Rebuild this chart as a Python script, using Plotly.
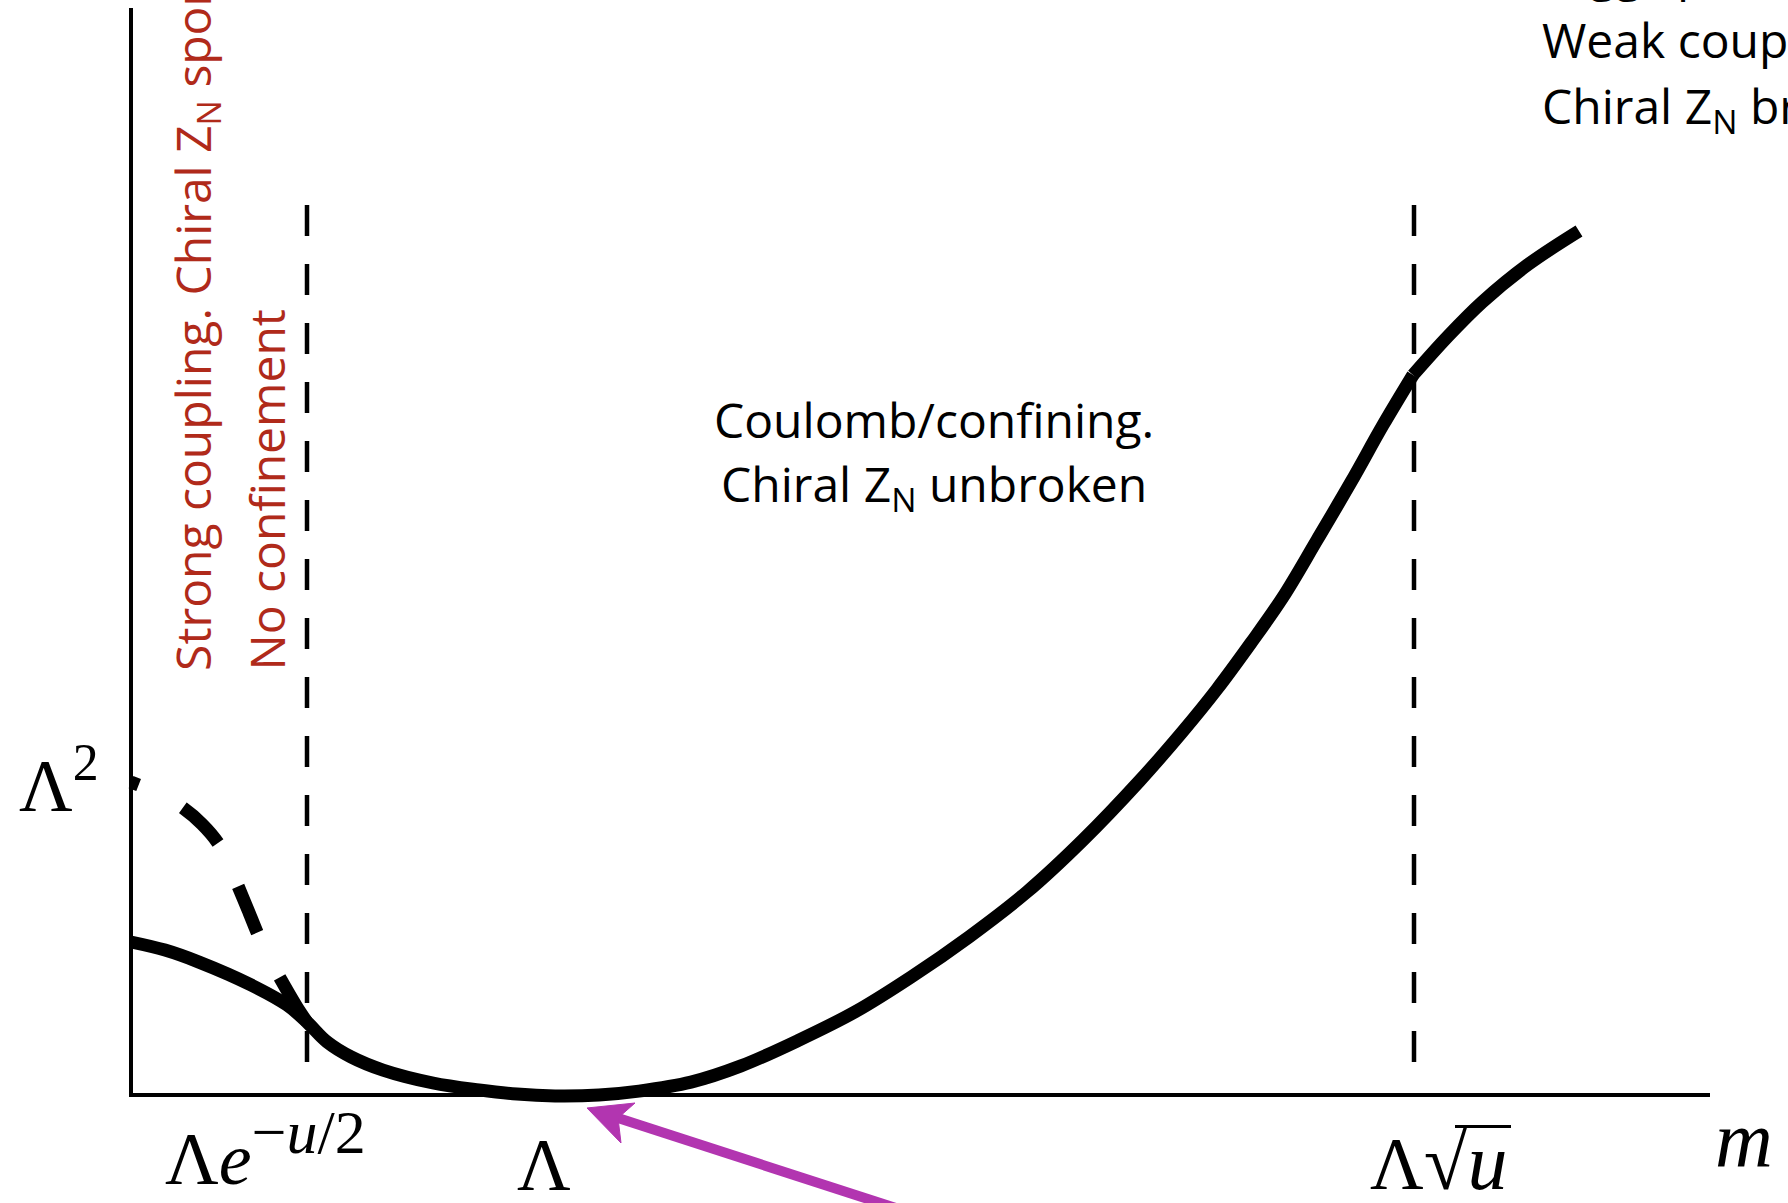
import plotly.graph_objects as go

# Mass parameter m in units of Lambda, gap in units of Lambda^2
# lower branch: from m = 0 up to the Lambda*sqrt(u) boundary
m_low = [0.0, 0.085, 0.17, 0.30, 0.39, 0.44, 0.49, 0.55, 0.63, 0.755, 0.87, 0.965,
         1.06, 1.17, 1.27, 1.40, 1.525, 1.67, 1.81, 1.95, 2.095, 2.24, 2.38, 2.52,
         2.63, 2.715, 2.80, 2.88, 2.965, 3.05, 3.13, 3.205]
gap_low = [0.510, 0.483, 0.443, 0.367, 0.300, 0.243, 0.177, 0.127, 0.083, 0.040, 0.017, 0.003,
           -0.003, 0.000, 0.013, 0.043, 0.097, 0.183, 0.277, 0.393, 0.527, 0.677, 0.850, 1.045,
           1.213, 1.353, 1.507, 1.660, 1.850, 2.043, 2.233, 2.400]
# upper branch: beyond the Lambda*sqrt(u) boundary
m_high = [3.205, 3.293, 3.378, 3.4925, 3.62]
gap_high = [2.400, 2.530, 2.643, 2.768, 2.880]

m_dashed = [0.0, 0.0725, 0.13, 0.1775, 0.2175, 0.245, 0.2675, 0.2925, 0.315, 0.3425, 0.3725, 0.415, 0.44]
gap_dashed = [1.043, 1.003, 0.957, 0.903, 0.840, 0.770, 0.697, 0.617, 0.543, 0.463, 0.390, 0.293, 0.243]

# Regime boundaries on the m axis
m_boundaries = [0.44, 3.2075]
boundary_top = 2.967
boundary_bottom = 0.093

# Axis extents
m_axis_end = 3.9475
gap_axis_end = 3.623

INK = "black"
RED = "#b02a1a"
MAGENTA = "#b235b0"
TEXT_FONT = "Open Sans"
MATH_FONT = "Liberation Serif"
TEXT_SIZE = 48

fig = go.Figure()

# axes drawn as lines
fig.add_trace(go.Scatter(x=[0, 0, m_axis_end], y=[gap_axis_end, 0, 0], mode="lines",
                         line=dict(color=INK, width=4), hoverinfo="skip"))

# regime boundaries
for mb in m_boundaries:
    fig.add_trace(go.Scatter(x=[mb, mb], y=[boundary_top, boundary_bottom], mode="lines",
                             line=dict(color=INK, width=4.5, dash="31px,28px"), hoverinfo="skip"))

# dashed branch near m -> 0
fig.add_trace(go.Scatter(x=m_dashed, y=gap_dashed, mode="lines",
                         line=dict(color=INK, width=13, shape="spline", smoothing=0.8,
                                   dash="8px,50px,50px,48px,50px,50px,120px"),
                         hoverinfo="skip"))

# main gap curve (two smooth pieces meeting at the kink)
for mx, gy in ((m_low, gap_low), (m_high, gap_high)):
    fig.add_trace(go.Scatter(x=mx, y=gy, mode="lines",
                             line=dict(color=INK, width=13, shape="spline", smoothing=1.0),
                             hoverinfo="skip"))

# arrow pointing at the minimum
arrow_tip = (1.14, -0.0433)
arrow_wing_up = (1.26, -0.0267)
arrow_notch = (1.2175, -0.0767)
arrow_wing_down = (1.225, -0.16)
arrow_tail = (1.935, -0.3867)
fig.add_shape(type="line", xref="x", yref="y",
              x0=arrow_notch[0], y0=arrow_notch[1], x1=arrow_tail[0], y1=arrow_tail[1],
              line=dict(color=MAGENTA, width=10))
fig.add_shape(type="path", xref="x", yref="y",
              path=(f"M{arrow_tip[0]},{arrow_tip[1]} L{arrow_wing_up[0]},{arrow_wing_up[1]} "
                    f"L{arrow_notch[0]},{arrow_notch[1]} L{arrow_wing_down[0]},{arrow_wing_down[1]} Z"),
              fillcolor=MAGENTA, line=dict(color=MAGENTA, width=1))

annotations = []

def txt(x, y, text, size, color=INK, family=TEXT_FONT, xanchor="center", yanchor="middle",
        angle=0, yshift=0):
    annotations.append(dict(x=x, y=y, xref="x", yref="y", text=text, showarrow=False,
                            font=dict(family=family, size=size, color=color),
                            xanchor=xanchor, yanchor=yanchor, textangle=angle, align="left",
                            yshift=yshift))

# region descriptions
txt(2.008, 2.253, "Coulomb/confining.", TEXT_SIZE)
txt(2.008, 2.027, "Chiral Z<sub>N</sub> unbroken", TEXT_SIZE)

txt(3.5225, 3.62, "Higgs phase.", TEXT_SIZE, xanchor="left", yshift=37)
txt(3.5225, 3.517, "Weak coupling.", TEXT_SIZE, xanchor="left")
txt(3.5225, 3.290, "Chiral Z<sub>N</sub> broken", TEXT_SIZE, xanchor="left")

txt(0.1625, 1.407, "Strong coupling. Chiral Z<sub>N</sub> spontaneously broken.", TEXT_SIZE,
    color=RED, yanchor="bottom", angle=-90)
txt(0.3375, 1.407, "No confinement", TEXT_SIZE, color=RED, yanchor="bottom", angle=-90)

# axis markers
SUP = '<sup><span style="font-size:62px">{}</span></sup>'
BIG = '<span style="font-size:80px">{}</span>'
tick_labels = ["Λ<i>e</i>" + SUP.format("−<i>u</i>/2"), "Λ", "Λ" + BIG.format("√<i>u</i>")]
tick_pos = [0.08, 1.0325, 3.0925]
tick_anchor = ["left", "center", "left"]
tick_shift = [0, -6, -6]
for lab, xp, xa, ys in zip(tick_labels, tick_pos, tick_anchor, tick_shift):
    txt(xp, -0.355, lab, 74, family=MATH_FONT, xanchor=xa, yanchor="bottom", yshift=ys)

txt(-0.285, 0.887, "Λ<sup>2</sup>", 74, family=MATH_FONT, xanchor="left", yanchor="bottom")
txt(3.955, -0.30, "<i>m</i>", 80, family=MATH_FONT, xanchor="left", yanchor="bottom")

# radical bar over u
fig.add_shape(type="line", xref="x", yref="y", x0=3.31, y0=-0.105, x1=3.45, y1=-0.105,
              line=dict(color=INK, width=3))

fig.update_layout(
    width=1788, height=1203,
    margin=dict(l=0, r=0, t=0, b=0),
    paper_bgcolor="white", plot_bgcolor="white",
    showlegend=False,
    annotations=annotations,
    xaxis=dict(range=[-0.3275, 4.1425], visible=False, fixedrange=True),
    yaxis=dict(range=[-0.36, 3.65], visible=False, fixedrange=True),
)

fig.write_html("out.html")
